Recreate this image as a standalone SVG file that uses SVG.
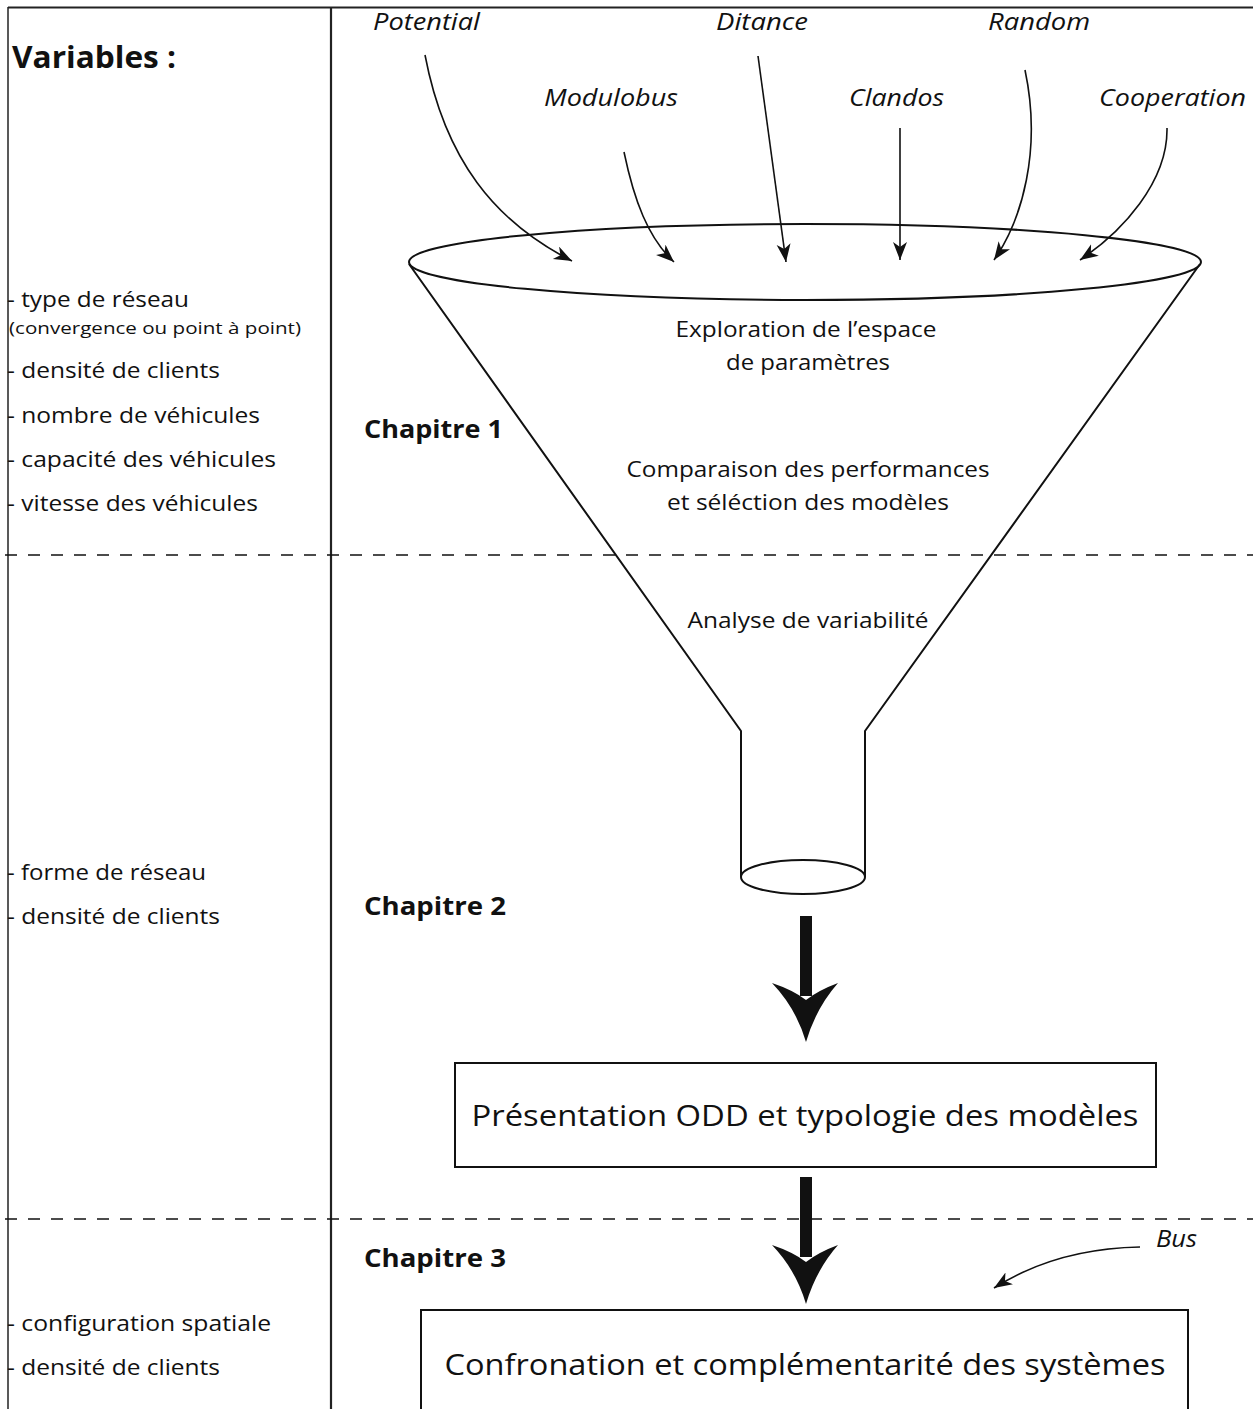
<svg xmlns="http://www.w3.org/2000/svg" width="1253" height="1409" viewBox="0 0 1253 1409">
<style>
text{font-family:"Open Sans","Noto Sans","Liberation Sans",sans-serif;fill:#111}
.var{font-size:22px}
.small{font-size:17px}
.bold{font-weight:bold}
.chap{font-size:25px;font-weight:bold}
.it{font-size:24px;font-style:italic}
.mid{font-size:22px;text-anchor:middle}
.big{font-size:30px;text-anchor:middle}
.frame{stroke:#222;fill:none}
.dash{stroke:#111;stroke-width:1.3;stroke-dasharray:12 11;fill:none}
.fun{stroke:#111;stroke-width:2;fill:none}
.thin{stroke:#111;stroke-width:1.6;fill:none;marker-end:url(#ah)}
.box{stroke:#111;stroke-width:2;fill:#fff}
</style>
<defs>
<marker id="ah" markerUnits="userSpaceOnUse" markerWidth="20" markerHeight="16" refX="18" refY="7" orient="auto">
<path d="M0,0 L18,7 L0,14 L5,7 z" fill="#111"/>
</marker>
</defs>
<rect width="1253" height="1409" fill="#fff"/>
<g id="frame">
<line class="frame" x1="8" y1="7.5" x2="1253" y2="7.5" stroke-width="2"/>
<line class="frame" x1="8" y1="7" x2="8" y2="1409" stroke-width="1.5"/>
<line class="frame" x1="331" y1="7" x2="331" y2="1409" stroke-width="2.2"/>
<line class="dash" x1="5" y1="555" x2="1253" y2="555"/>
<line class="dash" x1="5" y1="1219" x2="1253" y2="1219"/>
</g>
<g id="variables">
<text class="bold" x="12" y="68" font-size="30" textLength="164" lengthAdjust="spacingAndGlyphs">Variables :</text>
<text class="var" x="7" y="307" textLength="182" lengthAdjust="spacingAndGlyphs">- type de réseau</text>
<text class="small" x="9" y="334" textLength="292" lengthAdjust="spacingAndGlyphs">(convergence ou point à point)</text>
<text class="var" x="7" y="378" textLength="213" lengthAdjust="spacingAndGlyphs">- densité de clients</text>
<text class="var" x="7" y="423" textLength="253" lengthAdjust="spacingAndGlyphs">- nombre de véhicules</text>
<text class="var" x="7" y="467" textLength="269" lengthAdjust="spacingAndGlyphs">- capacité des véhicules</text>
<text class="var" x="7" y="511" textLength="251" lengthAdjust="spacingAndGlyphs">- vitesse des véhicules</text>
<text class="var" x="7" y="880" textLength="199" lengthAdjust="spacingAndGlyphs">- forme de réseau</text>
<text class="var" x="7" y="924" textLength="213" lengthAdjust="spacingAndGlyphs">- densité de clients</text>
<text class="var" x="7" y="1331" textLength="264" lengthAdjust="spacingAndGlyphs">- configuration spatiale</text>
<text class="var" x="7" y="1375" textLength="213" lengthAdjust="spacingAndGlyphs">- densité de clients</text>
</g>
<g id="chapitres">
<text class="chap" x="364" y="438" textLength="139" lengthAdjust="spacingAndGlyphs">Chapitre 1</text>
<text class="chap" x="364" y="915" textLength="142" lengthAdjust="spacingAndGlyphs">Chapitre 2</text>
<text class="chap" x="364" y="1267" textLength="142" lengthAdjust="spacingAndGlyphs">Chapitre 3</text>
</g>
<g id="models">
<text class="it" x="373" y="30" textLength="107" lengthAdjust="spacingAndGlyphs">Potential</text>
<text class="it" x="716" y="30" textLength="92" lengthAdjust="spacingAndGlyphs">Ditance</text>
<text class="it" x="988" y="30" textLength="102" lengthAdjust="spacingAndGlyphs">Random</text>
<text class="it" x="544" y="106" textLength="134" lengthAdjust="spacingAndGlyphs">Modulobus</text>
<text class="it" x="849" y="106" textLength="95" lengthAdjust="spacingAndGlyphs">Clandos</text>
<text class="it" x="1099" y="106" textLength="147" lengthAdjust="spacingAndGlyphs">Cooperation</text>
<text class="it" x="1156" y="1247" textLength="41" lengthAdjust="spacingAndGlyphs">Bus</text>
</g>
<g id="funnel">
<path class="fun" d="M409,264 L741,731 L741,877 M1200,264 L865,731 L865,877"/>
<ellipse class="fun" cx="805" cy="262" rx="396" ry="38"/>
<ellipse class="fun" cx="803" cy="877" rx="62" ry="17" fill="#fff"/>
<text class="mid" x="806" y="337" textLength="261" lengthAdjust="spacingAndGlyphs">Exploration de l’espace</text>
<text class="mid" x="808" y="370" textLength="164" lengthAdjust="spacingAndGlyphs">de paramètres</text>
<text class="mid" x="808" y="477" textLength="363" lengthAdjust="spacingAndGlyphs">Comparaison des performances</text>
<text class="mid" x="808" y="510" textLength="282" lengthAdjust="spacingAndGlyphs">et séléction des modèles</text>
<text class="mid" x="808" y="628" textLength="241" lengthAdjust="spacingAndGlyphs">Analyse de variabilité</text>
</g>
<g id="box-odd">
<rect class="box" x="455" y="1063" width="701" height="104"/>
<text class="big" x="805" y="1126" textLength="667" lengthAdjust="spacingAndGlyphs">Présentation ODD et typologie des modèles</text>
</g>
<g id="box-confrontation">
<rect class="box" x="421" y="1310" width="767" height="120"/>
<text class="big" x="805" y="1375" textLength="721" lengthAdjust="spacingAndGlyphs">Confronation et complémentarité des systèmes</text>
</g>
<g id="connectors">
<path class="thin" d="M425,55 C445,160 495,222 572,261"/>
<path class="thin" d="M624,152 C634,200 648,238 674,262"/>
<path class="thin" d="M758,56 L786,262"/>
<path class="thin" d="M900,128 L900,260"/>
<path class="thin" d="M1025,70 C1042,150 1022,220 994,260"/>
<path class="thin" d="M1167,128 C1168,182 1122,232 1080,260"/>
<path class="thin" d="M1140,1247 C1080,1248 1032,1264 994,1288"/>
<rect x="800" y="916" width="12" height="80" fill="#111"/>
<path d="M772,983 Q793,990 806,1000 Q819,990 838,983 Q816,1008 806,1042 Q796,1008 772,983 Z" fill="#111"/>
<rect x="800" y="1177" width="12" height="80" fill="#111"/>
<path d="M772,1245 Q793,1252 806,1262 Q819,1252 838,1245 Q816,1270 806,1304 Q796,1270 772,1245 Z" fill="#111"/>
</g>
</svg>
